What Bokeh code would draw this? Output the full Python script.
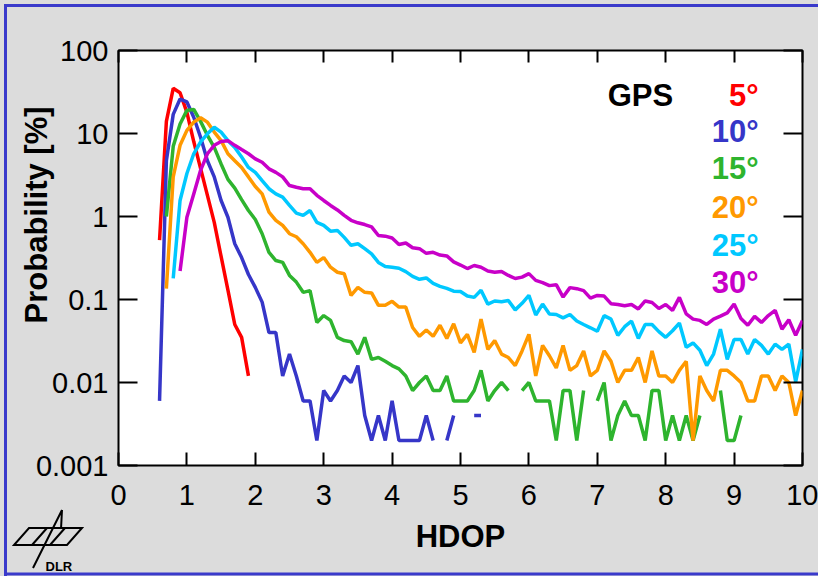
import urllib.parse
import numpy as np
from bokeh.plotting import figure
from bokeh.models import (FixedTicker, CustomJSTickFormatter, LinearAxis, LogAxis,
                          Label, Range1d, Title)
from bokeh.embed import file_html
from bokeh.resources import INLINE

# ---------------- data ----------------
hdop = [round(0.6 + 0.1 * i, 1) for i in range(95)]  # 0.6 ... 10.0

N = None
red_5 = [0.52, 14, 35, 31, 18, 8, 3.8, 1.8, 0.85, 0.33, 0.13, 0.05, 0.035, 0.012]
blue_10 = [0.006, 4.7, 17, 26, 24, 15.7, 9, 4.7, 3.0, 1.56, 0.98, 0.47, 0.32, 0.2,
           0.14, 0.093, 0.04, 0.04, 0.012, 0.022, 0.012, 0.006, 0.006, 0.002,
           0.008, 0.006, 0.008, 0.012, 0.010, 0.016, 0.004, 0.002, 0.004, 0.002,
           0.006, 0.002, 0.002, 0.002, 0.002, 0.004, 0.002, N, 0.002, 0.004, N, N,
           0.004, 0.004]
green_15 = [N, 1.0, 7, 13, 19, 19.5, 14, 9.5, 6.8, 4.3, 2.8, 2.2, 1.6, 1.18,
            0.92, 0.62, 0.37, 0.295, 0.28, 0.195, 0.162, 0.122, 0.128, 0.053,
            0.064, 0.056, 0.035, 0.032, 0.031, 0.022, 0.035, 0.019, 0.020, 0.018,
            0.016, 0.0146, 0.012, 0.008, 0.010, 0.012, 0.008, 0.008, 0.012, 0.006,
            0.006, 0.006, 0.008, 0.014, 0.006, 0.008, 0.010, 0.008, N, 0.008,
            0.010, 0.006, 0.006, 0.006, 0.002, 0.008, 0.008, 0.002, 0.008, N,
            0.006, 0.010, 0.002, 0.004, 0.006, 0.004, 0.004, 0.002, 0.008, 0.008,
            0.002, 0.004, 0.002, 0.004, 0.002, 0.004, N, N, 0.008, 0.002, 0.002,
            0.004]
orange_20 = [N, 0.135, 3.0, 7.2, 10.9, 13.7, 15.5, 13.7, 10.4, 8.2, 5.7, 4.7, 3.9,
             3.0, 2.3, 1.87, 1.13, 0.9, 0.78, 0.62, 0.57, 0.47, 0.37, 0.28, 0.32,
             0.245, 0.213, 0.204, 0.112, 0.14, 0.122, 0.12, 0.085, 0.085, 0.095,
             0.081, 0.081, 0.046, 0.036, 0.043, 0.036, 0.049, 0.034, 0.051, 0.030,
             0.038, 0.023, 0.058, 0.025, 0.032, 0.022, 0.020, 0.016, 0.024, 0.038,
             0.012, 0.028, 0.021, 0.015, 0.028, 0.014, 0.016, 0.024, 0.012, 0.014,
             0.024, 0.018, 0.010, 0.014, 0.014, 0.020, 0.010, 0.024, 0.012, 0.012,
             0.010, 0.014, 0.018, 0.002, 0.012, 0.008, 0.006, 0.014, 0.014, 0.012,
             0.010, 0.006, 0.006, 0.012, 0.012, 0.008, 0.012, 0.010, 0.004, 0.008]
cyan_25 = [N, N, 0.18, 1.56, 3.3, 5.7, 7.9, 9.9, 11.9, 10.4, 8.2, 6.8, 5.2, 3.9,
           3.4, 2.7, 2.16, 1.87, 1.71, 1.36, 1.1, 1.03, 1.18, 0.85, 0.78, 0.665,
           0.68, 0.56, 0.45, 0.47, 0.41, 0.355, 0.28, 0.25, 0.245, 0.238, 0.217,
           0.19, 0.175, 0.182, 0.156, 0.144, 0.136, 0.126, 0.125, 0.11, 0.106,
           0.129, 0.088, 0.096, 0.094, 0.097, 0.075, 0.09, 0.112, 0.065, 0.088,
           0.067, 0.066, 0.06, 0.066, 0.055, 0.05, 0.0456, 0.0415, 0.064, 0.058,
           0.037, 0.047, 0.055, 0.034, 0.05, 0.05, 0.041, 0.035, 0.042, 0.052,
           0.0266, 0.030, 0.0245, 0.016, 0.022, 0.044, 0.019, 0.033, 0.033, 0.022,
           0.033, 0.028, 0.022, 0.029, 0.025, 0.029, 0.0102, 0.025]
magenta_30 = [N, N, N, 0.22, 0.98, 1.87, 3.6, 5.7, 7.2, 8.0, 8.2, 7.2, 6.4, 5.7,
              4.95, 4.5, 3.75, 3.4, 3.0, 2.36, 2.25, 2.16, 2.16, 1.8, 1.56, 1.36,
              1.2, 1.03, 0.9, 0.84, 0.8, 0.75, 0.59, 0.58, 0.55, 0.46, 0.48, 0.42,
              0.41, 0.36, 0.37, 0.343, 0.335, 0.284, 0.26, 0.236, 0.257, 0.245,
              0.22, 0.213, 0.218, 0.195, 0.179, 0.186, 0.205, 0.17, 0.16, 0.147,
              0.151, 0.107, 0.139, 0.135, 0.128, 0.104, 0.112, 0.11, 0.089, 0.087,
              0.084, 0.087, 0.077, 0.096, 0.092, 0.078, 0.087, 0.074, 0.106, 0.067,
              0.058, 0.056, 0.05, 0.058, 0.063, 0.069, 0.088, 0.059, 0.049, 0.0625,
              0.053, 0.064, 0.074, 0.044, 0.057, 0.037, 0.056]

series_names = ["5°", "10°", "15°", "20°", "25°", "30°"]
series_values = [red_5, blue_10, green_15, orange_20, cyan_25, magenta_30]
series_colors = ["#ff0000", "#3636c8", "#2eb42e", "#ff9900", "#00c8ff", "#c800c8"]

x_ticks = [0, 1, 2, 3, 4, 5, 6, 7, 8, 9, 10]
y_ticks = [0.001, 0.01, 0.1, 1, 10, 100]
y_tick_labels = ["0.001", "0.01", "0.1", "1", "10", "100"]

FONT = "Liberation Sans"
NBSP = "\u00a0"

# ---------------- page decoration (gray panel, blue frame, DLR emblem) ----------------
deco_svg = (
    "<svg xmlns='http://www.w3.org/2000/svg' width='818' height='576'>"
    "<rect width='818' height='576' fill='#dcdcdc'/>"
    "<path d='M5.5 576 V5.5 H818' stroke='#3a3acb' stroke-width='3' fill='none'/>"
    "<path d='M4 574 H818' stroke='#3a3acb' stroke-width='3' fill='none'/>"
    "<g stroke='black' stroke-width='2' fill='none'>"
    "<path d='M29 528 H82 L67 545 H14 Z'/>"
    "<path d='M47 528 L32 545 M65 528 L50 545'/>"
    "<path d='M62 510 L33 568 M62 510 L61 529'/>"
    "</g></svg>"
)
deco_url = "data:image/svg+xml," + urllib.parse.quote(deco_svg)

# ---------------- figure ----------------
p = figure(width=818, height=576, x_range=Range1d(0, 10), y_range=Range1d(0.001, 100),
           y_axis_type="log", output_backend="svg", toolbar_location=None,
           min_border_left=118, min_border_right=16, min_border_top=50,
           min_border_bottom=111, border_fill_color=None,
           background_fill_color="white", outline_line_color="black",
           outline_line_width=2)
p.styles = {"background-image": f'url("{deco_url}")', "background-repeat": "no-repeat",
            "background-color": "#dcdcdc"}
p.grid.visible = False

def style_axis(ax, tick_in, show_labels=True):
    ax.major_tick_in = tick_in
    ax.major_tick_out = 0
    ax.major_tick_line_color = "black"
    ax.major_tick_line_width = 2
    ax.minor_tick_line_color = None
    ax.axis_line_color = None
    ax.major_label_text_font = FONT
    ax.major_label_text_font_size = "29px"
    ax.major_label_text_color = "black" if show_labels else None
    ax.axis_label_text_font = FONT
    ax.axis_label_text_font_style = "bold"
    ax.axis_label_text_font_size = "31px"
    ax.axis_label_text_color = "black"

xb = p.xaxis[0]
xb.ticker = FixedTicker(ticks=x_ticks)
style_axis(xb, 13)
xb.major_label_standoff = 19
xb.axis_label = "HDOP"
xb.axis_label_standoff = 11

yl = p.yaxis[0]
yl.ticker = FixedTicker(ticks=y_ticks)
yl.formatter = CustomJSTickFormatter(
    args=dict(yvals=y_ticks, ylabs=y_tick_labels),
    code="const i = yvals.findIndex(t => Math.abs(Math.log10(t) - Math.log10(tick)) < 1e-6);"
         " return i >= 0 ? ylabs[i] : '';")
style_axis(yl, 19)
yl.major_label_standoff = 10
yl.axis_label = NBSP * 10 + "Probability [%]"
yl.axis_label_standoff = -21

xt = LinearAxis(ticker=FixedTicker(ticks=x_ticks))
style_axis(xt, 12, show_labels=False)
p.add_layout(xt, "above")

yr = LogAxis(ticker=FixedTicker(ticks=y_ticks))
style_axis(yr, 19, show_labels=False)
p.add_layout(yr, "right")

p.add_layout(Title(text="DLR", align="left", offset=-73, standoff=0,
                   text_font=FONT, text_font_style="bold", text_font_size="13px",
                   text_color="black"), "below")

# ---------------- lines ----------------
for vals, col in zip(series_values, series_colors):
    y = np.array([np.nan if v is None else v for v in vals], dtype=float)
    x = np.array(hdop[:len(vals)], dtype=float)
    p.line(x, y, line_color=col, line_width=3.5)

# ---------------- legend texts ----------------
p.add_layout(Label(x=8.11, y=28.7, text="GPS", text_font=FONT, text_color="black",
                   text_font_style="bold", text_font_size="31px", text_align="right",
                   text_baseline="middle"))
legend_y = [28.7, 10.6, 3.8, 1.28, 0.45, 0.16]
for name, col, ly in zip(series_names, series_colors, legend_y):
    p.add_layout(Label(x=9.36, y=ly, text=name, text_color=col, text_font=FONT,
                       text_font_style="bold", text_font_size="31px",
                       text_align="right", text_baseline="middle"))

open("out.html", "w").write(file_html(p, INLINE))
